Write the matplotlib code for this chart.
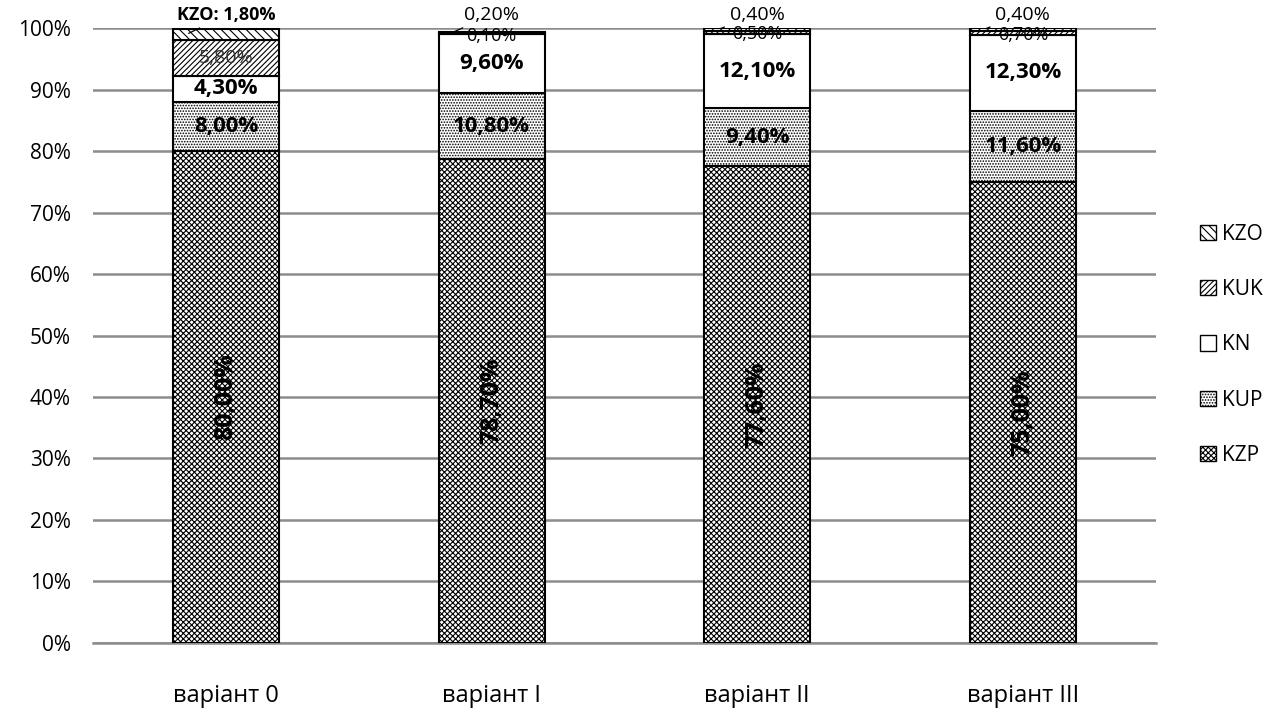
import numpy as np
import matplotlib.pyplot as plt
from matplotlib.patches import Patch

plt.rcParams['font.family'] = ['Open Sans', 'DejaVu Sans']
plt.rcParams['hatch.linewidth'] = 0.8

variants = ['варіант 0', 'варіант I', 'варіант II', 'варіант III']
kzp = [80.0, 78.7, 77.6, 75.0]
kup = [8.0, 10.8, 9.4, 11.6]
kn = [4.3, 9.6, 12.1, 12.3]
kuk = [5.8, 0.1, 0.5, 0.7]
kzo = [1.8, 0.2, 0.4, 0.4]

series = [('KZP', kzp, 'xxxxxx'), ('KUP', kup, '......'), ('KN', kn, ''),
          ('KUK', kuk, '//////'), ('KZO', kzo, '\\\\\\\\')]


def fmt(v):
    return f'{v:.2f}%'.replace('.', ',')


fig = plt.figure(figsize=(12.77, 7.11), dpi=100)
ax = fig.add_axes([0.073, 0.096, 0.832, 0.864])

x = np.arange(len(variants))
width = 0.4
bottom = np.zeros(len(variants))
for name, vals, hatch in series:
    ax.bar(x, vals, width, bottom=bottom, color='white', edgecolor='black',
           hatch=hatch, linewidth=1.5, zorder=3)
    bottom = bottom + np.array(vals)

# value labels for each segment
for i in range(len(variants)):
    y0 = 0
    ax.text(x[i], kzp[i] / 2, fmt(kzp[i]), rotation=90, ha='center', va='center',
            fontsize=18, fontweight='bold', zorder=5)
    y0 += kzp[i]
    ax.text(x[i], y0 + kup[i] / 2, fmt(kup[i]), ha='center', va='center',
            fontsize=16, fontweight='bold', zorder=5)
    y0 += kup[i]
    ax.text(x[i], y0 + kn[i] / 2, fmt(kn[i]), ha='center', va='center',
            fontsize=16, fontweight='bold', zorder=5)
    y0 += kn[i]
    if kuk[i] > 2:
        ax.text(x[i], y0 + kuk[i] / 2, fmt(kuk[i]), ha='center', va='center',
                fontsize=14, color='#333333', zorder=5)
    else:
        ax.text(x[i], y0 + kuk[i] / 2 - 0.3, fmt(kuk[i]), ha='center', va='center',
                fontsize=13, zorder=5)
    y0 += kuk[i]
    top_label = ('KZO: ' if i == 0 else '') + fmt(kzo[i])
    ax.annotate(top_label, xy=(x[i] - 0.15, y0 + kzo[i] / 2),
                xytext=(x[i], 102.2), ha='center', va='center',
                fontsize=13 if i == 0 else 14, fontweight='bold' if i == 0 else 'normal',
                arrowprops=dict(arrowstyle='-', lw=0.9, color='black'), zorder=5)

ax.set_xlim(-0.5, len(variants) - 0.5)
ax.set_ylim(0, 100)
ax.set_yticks(np.arange(0, 101, 10))
ax.set_yticklabels([f'{v}%' for v in range(0, 101, 10)], fontsize=15)
ax.set_xticks(x)
ax.set_xticklabels(variants, fontsize=17)
ax.tick_params(axis='x', length=0, pad=30)
ax.tick_params(axis='y', length=0, pad=16)
ax.grid(axis='y', color='#8c8c8c', linewidth=1.8, zorder=0)
for s in ['top', 'right', 'left']:
    ax.spines[s].set_visible(False)
ax.spines['bottom'].set_color('#8c8c8c')
ax.spines['bottom'].set_linewidth(1.8)

handles = [Patch(facecolor='white', edgecolor='black', hatch=h, label=n)
           for n, v, h in reversed(series)]
fig.legend(handles=handles, loc='center left', bbox_to_anchor=(0.925, 0.515),
           frameon=False, fontsize=15, handlelength=0.75, handleheight=0.75,
           handletextpad=0.3, labelspacing=1.65)

fig.savefig('out.png', dpi=100)
